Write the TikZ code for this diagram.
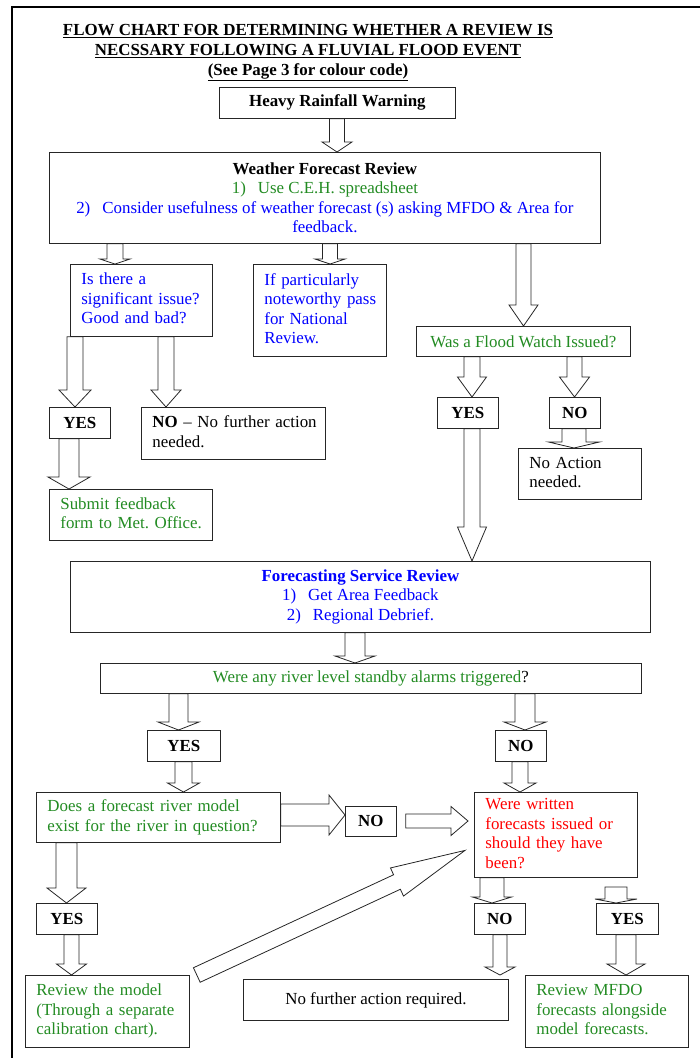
\documentclass[tikz,border=0pt]{standalone}
\usepackage{fontspec}
\setmainfont{Liberation Serif}
\usepackage{tikz}
\usetikzlibrary{calc}

\definecolor{fgreen}{RGB}{34,139,34}
\definecolor{fblue}{RGB}{0,0,255}
\definecolor{fred}{RGB}{255,0,0}

\frenchspacing
\newcommand{\lines}[1]{\noindent\begin{tabular}{@{}l@{}}#1\end{tabular}}

% hollow arrow down: x, from, to, half shaft, half head, head length
\newcommand{\vhollow}[6]{%
  \draw[hollow] let \p1=(#2), \p2=(#3) in
    (#1pt-#4pt,\y1) -- (#1pt-#4pt,\y2+#6pt) -- (#1pt-#5pt,\y2+#6pt) -- (#1pt,\y2)
    -- (#1pt+#5pt,\y2+#6pt) -- (#1pt+#4pt,\y2+#6pt) -- (#1pt+#4pt,\y1) -- cycle;
}
% hollow arrow right: y, from, to, half shaft, half head, head length
\newcommand{\hhollow}[6]{%
  \draw[hollow] let \p1=(#2), \p2=(#3) in
    (\x1,-#1pt+#4pt) -- (\x2-#6pt,-#1pt+#4pt) -- (\x2-#6pt,-#1pt+#5pt) -- (\x2,-#1pt)
    -- (\x2-#6pt,-#1pt-#5pt) -- (\x2-#6pt,-#1pt-#4pt) -- (\x1,-#1pt-#4pt) -- cycle;
}
% hollow arrow any direction: from, to, half shaft, half head, head length
\newcommand{\dhollow}[5]{%
  \coordinate (dh) at ($(#2)!#5pt!(#1)$);
  \draw[hollow] ($(#1)!#3pt!90:(#2)$) -- ($(dh)!#3pt!90:(#2)$) -- ($(dh)!#4pt!90:(#2)$) -- (#2)
    -- ($(dh)!#4pt!-90:(#2)$) -- ($(dh)!#3pt!-90:(#2)$) -- ($(#1)!#3pt!-90:(#2)$) -- cycle;
}

\begin{document}
\begin{tikzpicture}[x=1pt,y=-1pt,
    box/.style={draw=black!85, line width=0.8pt, anchor=north west, inner sep=0pt,
      font=\fontsize{16.9}{19.5}\selectfont},
    lbox/.style={box, inner xsep=11pt, align=left},
    titletext/.style={anchor=north, align=center, inner sep=0pt,
      font=\fontsize{16.9}{20}\selectfont\bfseries},
    hollow/.style={draw=black!85, line width=0.8pt, line join=miter}]

  \useasboundingbox (0,0) rectangle (700,1058);

  % page frame
  \draw[line width=2pt] (700,7) -- (12,7) -- (12,1058);

  % title
  \node[titletext] (title) at (308,24) {\underline{FLOW CHART FOR DETERMINING WHETHER A REVIEW IS}\\
    \underline{NECSSARY FOLLOWING A FLUVIAL FLOOD EVENT}\\
    \underline{(See Page 3 for colour code)}};

  % weather forecast part
  \node[box, minimum width=236, minimum height=31] (hrw) at (219,87) {\textbf{Heavy Rainfall Warning}};
  \node[box, align=center, minimum width=551, minimum height=91] (wfr) at (49,152)
    {\textbf{Weather Forecast Review}\\
     \textcolor{fgreen}{1)\hspace{12pt}Use C.E.H. spreadsheet}\\
     \textcolor{fblue}{2)\hspace{12pt}Consider usefulness of weather forecast (s) asking MFDO \& Area for}\\
     \textcolor{fblue}{feedback.}};
  \node[lbox, text=fblue, minimum width=142, text width=120pt, minimum height=72] (issue) at (70,264)
    {\lines{Is there a\\significant issue?\\Good and bad?}};
  \node[lbox, text=fblue, minimum width=133, text width=111pt, minimum height=92] (note) at (253,264)
    {\lines{If particularly\\noteworthy pass\\for National\\Review.}};
  \node[box, text=fgreen, minimum width=214, minimum height=30] (fw) at (416,326) {Was a Flood Watch Issued?};

  \node[box, minimum width=61, minimum height=31] (yes1) at (49,407) {\textbf{YES}};
  \node[lbox, minimum width=184, text width=162pt, minimum height=52] (no1) at (141,407)
    {\lines{\textbf{NO} -- No further action\\needed.}};
  \node[lbox, text=fgreen, minimum width=163, text width=141pt, minimum height=51] (submit) at (49,489)
    {\lines{Submit feedback\\form to Met. Office.}};
  \node[box, minimum width=61, minimum height=31] (yes2) at (437,397) {\textbf{YES}};
  \node[box, minimum width=51, minimum height=31] (no2) at (549,397) {\textbf{NO}};
  \node[lbox, minimum width=123, text width=101pt, minimum height=51] (noact) at (518,448)
    {\lines{No Action\\needed.}};

  % forecasting service part
  \node[box, align=center, text=fblue, minimum width=580, minimum height=71] (fsr) at (70,561)
    {\textbf{Forecasting Service Review}\\
     1)\hspace{12pt}Get Area Feedback\\
     2)\hspace{12pt}Regional Debrief.};
  \node[box, minimum width=541, minimum height=30] (alarm) at (100,663)
    {\textcolor{fgreen}{Were any river level standby alarms triggered}?};
  \node[box, minimum width=73, minimum height=31] (yes3) at (147,730) {\textbf{YES}};
  \node[box, minimum width=51, minimum height=31] (no3) at (495,730) {\textbf{NO}};
  \node[lbox, text=fgreen, minimum width=244, text width=222pt, minimum height=50] (model) at (36,792)
    {\lines{Does a forecast river model\\exist for the river in question?}};
  \node[box, minimum width=51, minimum height=30] (no4) at (345,806) {\textbf{NO}};
  \node[lbox, text=fred, minimum width=163, text width=141pt, minimum height=85] (written) at (474,792)
    {\lines{Were written\\forecasts issued or\\should they have\\been?}};
  \node[box, minimum width=61, minimum height=31] (yes5) at (36,903) {\textbf{YES}};
  \node[box, minimum width=51, minimum height=31] (no6) at (474,903) {\textbf{NO}};
  \node[box, minimum width=62, minimum height=31] (yes7) at (596,903) {\textbf{YES}};
  \node[lbox, text=fgreen, minimum width=164, text width=142pt, minimum height=72] (rm) at (25,975)
    {\lines{Review the model\\(Through a separate\\calibration chart).}};
  \node[box, minimum width=265, minimum height=41] (nf) at (243,979) {No further action required.};
  \node[lbox, text=fgreen, minimum width=163, text width=141pt, minimum height=72] (rmfdo) at (525,975)
    {\lines{Review MFDO\\forecasts alongside\\model forecasts.}};

  % free ends
  \coordinate (gapstart) at (616,887);
  \coordinate (nfin) at ([yshift=4pt]nf.north);
  \coordinate (no4out) at ([xshift=9pt]no4.east);
  \coordinate (writtenin) at ([xshift=-6pt]written.west);
  \coordinate (diagtail) at ([xshift=7pt]rm.north east);
  \coordinate (diagtip) at ([xshift=-9pt,yshift=-15.5pt]written.west);

  % block arrows
  \vhollow{337}{hrw.south}{wfr.north}{7.5}{15}{10}
  \vhollow{115}{wfr.south}{issue.north}{8}{15}{5}
  \vhollow{330}{wfr.south}{note.north}{7.5}{15}{5}
  \vhollow{523.5}{wfr.south}{fw.north}{7.5}{14.5}{21}
  \vhollow{75}{issue.south}{yes1.north}{8}{16}{17}
  \vhollow{166}{issue.south}{no1.north}{8}{15}{17}
  \vhollow{69}{yes1.south}{submit.north}{10}{21}{12}
  \vhollow{472}{fw.south}{yes2.north}{8}{14.5}{20}
  \vhollow{574.5}{fw.south}{no2.north}{7.5}{15}{20}
  \vhollow{574}{no2.south}{noact.north}{12}{25.5}{6}
  \vhollow{472}{yes2.south}{fsr.north}{8}{14.5}{34}
  \vhollow{355}{fsr.south}{alarm.north}{10}{20}{7}
  \vhollow{178.5}{alarm.south}{yes3.north}{9.5}{20.5}{8}
  \vhollow{525}{alarm.south}{no3.north}{10}{21}{8}
  \vhollow{183.5}{yes3.south}{model.north}{8.5}{16}{9}
  \vhollow{520}{no3.south}{written.north}{8}{16}{9}
  \vhollow{66.5}{model.south}{yes5.north}{10.5}{19.5}{15}
  \vhollow{71.5}{yes5.south}{rm.north}{7.5}{15}{11}
  \vhollow{492}{written.south}{no6.north}{12}{19.5}{6}
  \vhollow{616}{gapstart}{yes7.north}{11}{21}{4}
  \vhollow{500}{no6.south}{nfin}{7}{15}{8}
  \vhollow{626}{yes7.south}{rmfdo.north}{10}{19}{11}
  \hhollow{815}{model.east}{no4.west}{11}{20}{16}
  \hhollow{821}{no4out}{writtenin}{7}{14.5}{17}
  \dhollow{diagtail}{diagtip}{8}{15.5}{75}

\end{tikzpicture}
\end{document}
